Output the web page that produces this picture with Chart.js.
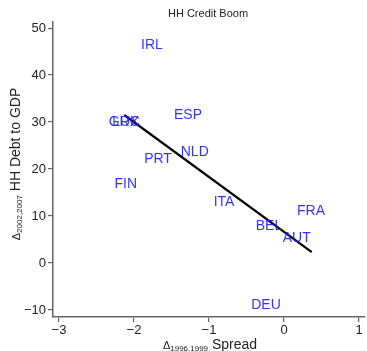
<!DOCTYPE html>
<html>
<head>
<meta charset="utf-8">
<script src="https://cdn.jsdelivr.net/npm/chart.js@4.4.1/dist/chart.umd.min.js"></script>
<style>
  html, body { margin: 0; padding: 0; background: #fff; }
  #wrap { width: 367px; height: 351px; }
</style>
</head>
<body>
<div id="wrap"><canvas id="chart" width="367" height="351"></canvas></div>
<script>
// country labels and their positions (spread change, debt change)
const countries = ['IRL', 'ESP', 'GRC', 'LUX', 'NLD', 'PRT', 'FIN', 'ITA', 'FRA', 'BEL', 'AUT', 'DEU'];
const spread    = [-1.76, -1.28, -2.13, -2.11, -1.19, -1.68, -2.11, -0.80, 0.36, -0.20, 0.17, -0.24];
const hhDebt    = [46.4, 31.5, 30.0, 30.0, 23.6, 22.1, 16.8, 13.0, 11.1, 7.9, 5.3, -8.9];

// fitted line end points
const fitX = [-2.13, 0.37];
const fitY = [31.5, 2.3];

const xTicks = [-3, -2, -1, 0, 1];
const yTicks = [-10, 0, 10, 20, 30, 40, 50];

const FONT = '"Liberation Sans", Arial, Helvetica, sans-serif';
const AXIS_GREY = '#666';

function minus(v) {
    return String(v).replace('-', '\u2212');
}

// draws the country codes at their data positions
const labelPlugin = {
    id: 'labels',
    afterDatasetsDraw(chart) {
        const ctx = chart.ctx;
        const xs = chart.scales.x, ys = chart.scales.y;
        ctx.save();
        ctx.font = '14px ' + FONT;
        ctx.fillStyle = 'rgba(30,30,255,0.92)';
        ctx.textAlign = 'center';
        ctx.textBaseline = 'middle';
        countries.forEach((c, i) => {
            ctx.fillText(c, xs.getPixelForValue(spread[i]), ys.getPixelForValue(hhDebt[i]));
        });
        ctx.restore();
    }
};

// title and axis titles with subscripts
function drawSubTitle(ctx, parts) {
    let total = 0;
    parts.forEach(p => { ctx.font = p.size + 'px ' + FONT; p.w = ctx.measureText(p.text).width; total += p.w; });
    let x = -total / 2;
    parts.forEach(p => {
        ctx.font = p.size + 'px ' + FONT;
        ctx.fillText(p.text, x, p.dy || 0);
        x += p.w;
    });
}

const titlePlugin = {
    id: 'titles',
    afterDraw(chart) {
        const ctx = chart.ctx;
        const area = chart.chartArea;
        ctx.save();
        ctx.fillStyle = '#222';
        ctx.textBaseline = 'alphabetic';
        ctx.textAlign = 'left';

        ctx.font = '11px ' + FONT;
        const t = 'HH Credit Boom';
        ctx.fillText(t, 208 - ctx.measureText(t).width / 2, 17);

        ctx.save();
        ctx.translate((area.left + area.right) / 2 + 1, 349);
        drawSubTitle(ctx, [
            { text: '\u0394', size: 11 },
            { text: '1996,1999', size: 8, dy: 2 },
            { text: ' Spread', size: 14 }
        ]);
        ctx.restore();

        ctx.save();
        ctx.translate(20, 164);
        ctx.rotate(-Math.PI / 2);
        drawSubTitle(ctx, [
            { text: '\u0394', size: 11 },
            { text: '2002,2007', size: 8, dy: 2 },
            { text: ' HH Debt to GDP', size: 14 }
        ]);
        ctx.restore();

        ctx.restore();
    }
};

new Chart(document.getElementById('chart'), {
    data: {
        datasets: [
            {
                type: 'scatter',
                data: spread.map((x, i) => ({ x: x, y: hhDebt[i] })),
                pointRadius: 0,
                pointHoverRadius: 0
            },
            {
                type: 'line',
                data: fitX.map((x, i) => ({ x: x, y: fitY[i] })),
                borderColor: '#000',
                borderWidth: 2.2,
                pointRadius: 0,
                fill: false
            }
        ]
    },
    options: {
        responsive: false,
        animation: false,
        events: [],
        layout: { padding: { top: 22, right: 2, left: 0, bottom: 0 } },
        plugins: {
            legend: { display: false },
            tooltip: { enabled: false },
            title: { display: false }
        },
        scales: {
            x: {
                type: 'linear',
                min: -3.08,
                max: 1.08,
                afterFit(scale) { scale.height = 34; },
                afterBuildTicks(scale) { scale.ticks = xTicks.map(v => ({ value: v })); },
                border: { display: true, color: AXIS_GREY, width: 1.5 },
                grid: { drawOnChartArea: false, drawTicks: true, tickLength: 5, color: AXIS_GREY, lineWidth: 1.2 },
                ticks: {
                    font: { family: FONT, size: 13 },
                    color: '#222',
                    padding: 1,
                    maxRotation: 0,
                    callback: v => minus(v)
                }
            },
            y: {
                type: 'linear',
                min: -11.5,
                max: 51.3,
                afterFit(scale) { scale.width = 53; },
                afterBuildTicks(scale) { scale.ticks = yTicks.map(v => ({ value: v })); },
                border: { display: true, color: AXIS_GREY, width: 1.5 },
                grid: { drawOnChartArea: false, drawTicks: true, tickLength: 5, color: AXIS_GREY, lineWidth: 1.2 },
                ticks: {
                    font: { family: FONT, size: 13 },
                    color: '#222',
                    padding: 2,
                    callback: v => minus(v)
                }
            }
        }
    },
    plugins: [labelPlugin, titlePlugin]
});
</script>
</body>
</html>
